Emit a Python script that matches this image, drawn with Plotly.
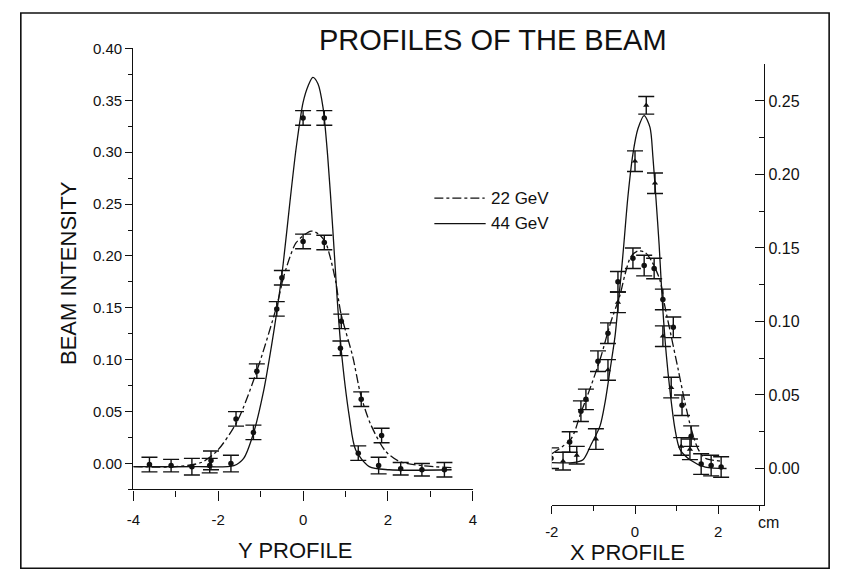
import plotly.graph_objects as go

W, H = 843, 584

# ---------------- Y PROFILE (left panel) ----------------
y22_x = [-3.62, -3.11, -2.62, -2.17, -1.58, -1.09, -0.50, 0.00, 0.50, 0.90, 1.37, 1.85, 2.30, 2.80, 3.33]
y22_y = [-0.001, -0.002, -0.003, 0.003, 0.043, 0.089, 0.179, 0.214, 0.213, 0.137, 0.062, 0.027, -0.005, -0.006, -0.006]
y22_err = [0.007, 0.006, 0.008, 0.009, 0.007, 0.007, 0.007, 0.007, 0.007, 0.007, 0.007, 0.007, 0.006, 0.006, 0.007]

y44_x = [-2.20, -1.70, -1.17, -0.62, 0.00, 0.50, 0.88, 1.30, 1.78]
y44_y = [-0.002, 0.000, 0.030, 0.149, 0.333, 0.333, 0.111, 0.010, -0.002]
y44_err = [0.007, 0.008, 0.007, 0.007, 0.007, 0.007, 0.007, 0.007, 0.008]

cy22_x = [-4.0, -3.0, -2.4, -2.03, -1.56, -1.10, -0.62, -0.47, -0.31, -0.16, 0.19, 0.40, 0.54, 0.65, 0.77, 0.89, 1.17, 1.36, 1.59, 1.94, 2.27, 2.80, 3.50]
cy22_y = [-0.003, -0.003, 0.001, 0.012, 0.040, 0.088, 0.152, 0.178, 0.199, 0.213, 0.224, 0.220, 0.212, 0.197, 0.175, 0.145, 0.103, 0.066, 0.038, 0.012, 0.002, -0.002, -0.004]

cy44_x = [-4.0, -2.5, -1.63, -1.40, -1.17, -0.93, -0.75, -0.62, -0.47, -0.31, -0.16, 0.00, 0.12, 0.23, 0.35, 0.47, 0.58, 0.70, 0.80, 0.89, 1.09, 1.24, 1.56, 2.03, 3.50]
cy44_y = [-0.003, -0.003, -0.002, 0.005, 0.029, 0.070, 0.112, 0.146, 0.192, 0.252, 0.305, 0.348, 0.364, 0.372, 0.366, 0.343, 0.296, 0.226, 0.161, 0.113, 0.045, 0.013, -0.003, -0.006, -0.006]

# ---------------- X PROFILE (right panel) ----------------
x22_x = [-2.02, -1.57, -1.30, -1.18, -0.89, -0.65, -0.41, -0.05, 0.22, 0.46, 0.67, 0.92, 1.13, 1.35, 1.59, 1.83, 2.07]
x22_y = [0.007, 0.018, 0.039, 0.047, 0.073, 0.092, 0.127, 0.143, 0.138, 0.136, 0.115, 0.096, 0.043, 0.022, 0.003, 0.002, 0.001]
x22_err = [0.007] * 17

x44_x = [-1.73, -1.40, -0.94, -0.65, -0.41, 0.00, 0.27, 0.48, 0.67, 0.87, 1.11, 1.32]
x44_y = [0.005, 0.009, 0.020, 0.067, 0.113, 0.209, 0.247, 0.194, 0.090, 0.055, 0.015, 0.013]
x44_err = [0.006, 0.006, 0.007, 0.007, 0.007, 0.007, 0.006, 0.007, 0.007, 0.007, 0.006, 0.007]

cx22_x = [-2.0, -1.54, -1.30, -1.06, -0.82, -0.60, -0.36, -0.24, -0.10, 0.07, 0.24, 0.40, 0.60, 0.72, 0.87, 1.04, 1.20, 1.35, 1.52, 1.69, 2.07]
cx22_y = [0.010, 0.020, 0.038, 0.056, 0.076, 0.098, 0.118, 0.132, 0.144, 0.148, 0.147, 0.141, 0.128, 0.110, 0.090, 0.067, 0.045, 0.027, 0.013, 0.007, 0.005]

cx44_x = [-2.0, -1.5, -1.25, -1.06, -0.84, -0.72, -0.60, -0.48, -0.41, -0.34, -0.27, -0.17, -0.05, 0.07, 0.22, 0.36, 0.43, 0.50, 0.58, 0.66, 0.75, 0.84, 0.96, 1.08, 1.32, 1.69, 2.20]
cx44_y = [0.004, 0.004, 0.006, 0.016, 0.029, 0.045, 0.067, 0.090, 0.110, 0.130, 0.152, 0.185, 0.214, 0.231, 0.240, 0.232, 0.212, 0.185, 0.152, 0.112, 0.078, 0.053, 0.027, 0.013, 0.006, 0.001, 0.000]

# tick labels
left_xticks = [-4, -2, 0, 2, 4]
left_yticks = [0.00, 0.05, 0.10, 0.15, 0.20, 0.25, 0.30, 0.35, 0.40]
right_xticks = [-2, 0, 2]
right_yticks = [0.00, 0.05, 0.10, 0.15, 0.20, 0.25]

FONT = "Liberation Sans, Arial, sans-serif"
INK = "#111111"

fig = go.Figure()

def px(xp):
    return xp / W

def py(yp):
    return 1 - yp / H

# fitted curves
fig.add_trace(go.Scatter(x=cy22_x, y=cy22_y, mode="lines", line=dict(color=INK, width=1.3, dash="dashdot", shape="spline", smoothing=0.8),
                         xaxis="x", yaxis="y", showlegend=False, hoverinfo="skip"))
fig.add_trace(go.Scatter(x=cy44_x, y=cy44_y, mode="lines", line=dict(color=INK, width=1.3, shape="spline", smoothing=0.8),
                         xaxis="x", yaxis="y", showlegend=False, hoverinfo="skip"))
fig.add_trace(go.Scatter(x=cx22_x, y=cx22_y, mode="lines", line=dict(color=INK, width=1.3, dash="dashdot", shape="spline", smoothing=0.8),
                         xaxis="x2", yaxis="y2", showlegend=False, hoverinfo="skip"))
fig.add_trace(go.Scatter(x=cx44_x, y=cx44_y, mode="lines", line=dict(color=INK, width=1.3, shape="spline", smoothing=0.8),
                         xaxis="x2", yaxis="y2", showlegend=False, hoverinfo="skip"))

def pts(xs, ys, es, xa, ya, symbol):
    fig.add_trace(go.Scatter(
        x=xs, y=ys, mode="markers", xaxis=xa, yaxis=ya, showlegend=False,
        marker=dict(color=INK, size=5.5, symbol=symbol),
        error_y=dict(type="data", array=es, color=INK, thickness=1.4, width=8),
    ))

pts(y22_x, y22_y, y22_err, "x", "y", "circle")
pts(y44_x, y44_y, y44_err, "x", "y", "circle")
pts(x22_x, x22_y, x22_err, "x2", "y2", "circle")
pts(x44_x, x44_y, x44_err, "x2", "y2", "triangle-up")

axis_common = dict(showgrid=False, zeroline=False, showline=True, linecolor=INK, linewidth=1.4,
                   tickcolor=INK, tickwidth=1.2, tickfont=dict(family=FONT, size=15, color=INK))

fig.update_layout(
    width=W, height=H,
    margin=dict(l=0, r=0, t=0, b=0),
    paper_bgcolor="white", plot_bgcolor="rgba(0,0,0,0)",
    showlegend=False,
    xaxis=dict(domain=[px(128), px(472)], range=[-4, 4], anchor="y",
               tickmode="array", tickvals=left_xticks, ticktext=[str(v) for v in left_xticks],
               ticks="outside", ticklen=10, ticklabelstandoff=6,
               minor=dict(dtick=1, ticks="outside", ticklen=6, tickcolor=INK),
               **axis_common),
    yaxis=dict(domain=[py(488), py(40)], range=[-0.025, 0.40], anchor="x",
               tickmode="array", tickvals=left_yticks, ticktext=["%.2f" % v for v in left_yticks],
               ticks="outside", ticklen=7, minor=dict(dtick=0.025, tick0=0, ticks="outside", ticklen=4, tickcolor=INK),
               **axis_common),
    xaxis2=dict(domain=[px(552), px(767)], range=[-2, 3.1], anchor="y2",
                tickmode="array", tickvals=right_xticks, ticktext=[str(v) for v in right_xticks],
                ticks="outside", ticklen=8, ticklabelstandoff=5,
                minor=dict(dtick=1, tick0=0, ticks="outside", ticklen=5, tickcolor=INK),
                **axis_common),
    yaxis2=dict(domain=[py(504), py(56)], range=[-0.025, 0.275], anchor="x2", side="right",
                tickmode="array", tickvals=right_yticks, ticktext=["%.2f" % v for v in right_yticks],
                ticks="inside", ticklen=9, minor=dict(dtick=0.025, tick0=0, ticks="inside", ticklen=5, tickcolor=INK),
                **axis_common),
)
fig.update_yaxes(tickfont=dict(family=FONT, size=16, color=INK), selector=dict(side="right"))

shapes = [
    dict(type="rect", xref="paper", yref="paper", x0=px(14), x1=px(833), y0=py(568), y1=py(4),
         line=dict(color=INK, width=1.6)),
    dict(type="line", xref="paper", yref="paper", x0=px(433), x1=px(484), y0=py(192), y1=py(192),
         line=dict(color=INK, width=1.3, dash="dashdot")),
    dict(type="line", xref="paper", yref="paper", x0=px(433), x1=px(485), y0=py(218), y1=py(218),
         line=dict(color=INK, width=1.3)),
]
fig.update_layout(shapes=shapes)

def txt(s, xp, yp, size, angle=0, xanchor="center"):
    fig.add_annotation(text=s, x=px(xp), y=py(yp), xref="paper", yref="paper", showarrow=False,
                       xanchor=xanchor, yanchor="middle", textangle=angle,
                       font=dict(family=FONT, size=size, color=INK))

txt("PROFILES OF THE BEAM", 492, 31, 29)
txt("BEAM INTENSITY", 63, 268, 22, angle=-90)
txt("Y PROFILE", 292, 550, 22)
txt("X PROFILE", 629, 552, 22)
txt("cm", 772, 522, 16)
txt("22 GeV", 488, 192, 17, xanchor="left")
txt("44 GeV", 488, 218, 17, xanchor="left")

fig.write_html("out.html", config={"displayModeBar": False},
               post_script="document.body.style.margin='0px';")
